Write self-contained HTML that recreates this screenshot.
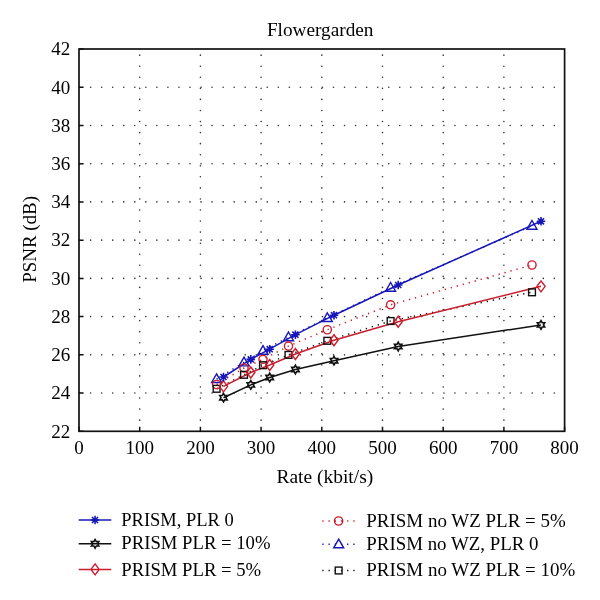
<!DOCTYPE html><html><head><meta charset="utf-8"><style>html,body{margin:0;padding:0;background:#fff}svg{display:block;will-change:transform}text{font-family:"Liberation Serif",serif;fill:#000}</style></head><body>
<svg width="600" height="600" viewBox="0 0 600 600">
<rect width="600" height="600" fill="#fff"/>
<g stroke="#333" stroke-width="1.6" stroke-linecap="round"><line x1="79.6" y1="393.07" x2="564.6" y2="393.07" stroke-dasharray="0 11.04"/><line x1="79.6" y1="354.84" x2="564.6" y2="354.84" stroke-dasharray="0 11.04"/><line x1="79.6" y1="316.61" x2="564.6" y2="316.61" stroke-dasharray="0 11.04"/><line x1="79.6" y1="278.38" x2="564.6" y2="278.38" stroke-dasharray="0 11.04"/><line x1="79.6" y1="240.15" x2="564.6" y2="240.15" stroke-dasharray="0 11.04"/><line x1="79.6" y1="201.92" x2="564.6" y2="201.92" stroke-dasharray="0 11.04"/><line x1="79.6" y1="163.69" x2="564.6" y2="163.69" stroke-dasharray="0 11.04"/><line x1="79.6" y1="125.46" x2="564.6" y2="125.46" stroke-dasharray="0 11.04"/><line x1="79.6" y1="87.23" x2="564.6" y2="87.23" stroke-dasharray="0 11.04"/><line x1="139.7" y1="431.2" x2="139.7" y2="49" stroke-dasharray="0 11.06"/><line x1="200.4" y1="431.2" x2="200.4" y2="49" stroke-dasharray="0 11.06"/><line x1="261.1" y1="431.2" x2="261.1" y2="49" stroke-dasharray="0 11.06"/><line x1="321.8" y1="431.2" x2="321.8" y2="49" stroke-dasharray="0 11.06"/><line x1="382.5" y1="431.2" x2="382.5" y2="49" stroke-dasharray="0 11.06"/><line x1="443.2" y1="431.2" x2="443.2" y2="49" stroke-dasharray="0 11.06"/><line x1="503.9" y1="431.2" x2="503.9" y2="49" stroke-dasharray="0 11.06"/></g>
<path d="M79 431.3h4.6M79 393.07h4.6M79 354.84h4.6M79 316.61h4.6M79 278.38h4.6M79 240.15h4.6M79 201.92h4.6M79 163.69h4.6M79 125.46h4.6M79 87.23h4.6M79 49h4.6M79 431.3v-4.6M139.7 431.3v-4.6M200.4 431.3v-4.6M261.1 431.3v-4.6M321.8 431.3v-4.6M382.5 431.3v-4.6M443.2 431.3v-4.6M503.9 431.3v-4.6M564.6 431.3v-4.6" stroke="#111" stroke-width="1.5" fill="none"/>
<rect x="79" y="49" width="485.6" height="382.3" stroke="#111" stroke-width="1.7" fill="none"/>
<polyline points="216.6,379 244,362.4 263,350.8 288.5,337.2 327.3,318 390.6,287.7 532,225.7" stroke="#1616b8" stroke-width="1.5" fill="none" stroke-dasharray="1.3 4.9"/>
<polyline points="216.6,384.5 244,368 263,359.3 288.5,346.1 327.3,329.75 390.6,304.8 532,265" stroke="#c81e2e" stroke-width="1.5" fill="none" stroke-dasharray="1.3 4.9"/>
<polyline points="216.6,388.8 244,374.8 263,365.2 288.5,354.9 327.3,340.8 390.6,321 532,292.3" stroke="#111" stroke-width="1.5" fill="none" stroke-dasharray="1.3 4.9"/>
<polyline points="223.5,397.7 250.8,384.9 269.7,377.5 295.4,369.5 334,360.7 398.2,346.5 541,324.9" stroke="#111" stroke-width="1.5" fill="none"/>
<polyline points="223.5,386.3 250.8,372.5 269.7,365 295.4,354 334,340.25 398.2,321.75 541,286.3" stroke="#c81e2e" stroke-width="1.5" fill="none"/>
<polyline points="223.5,377 250.8,359.4 269.7,349.2 295.4,334.7 334,315.2 398.2,285 541,221.3" stroke="#1616b8" stroke-width="1.5" fill="none"/>
<polygon points="216.6,373.8 221.6,382.5 211.6,382.5" stroke="#1616b8" stroke-width="1.4" fill="none"/>
<polygon points="244,357.2 249,365.9 239,365.9" stroke="#1616b8" stroke-width="1.4" fill="none"/>
<polygon points="263,345.6 268,354.3 258,354.3" stroke="#1616b8" stroke-width="1.4" fill="none"/>
<polygon points="288.5,332 293.5,340.7 283.5,340.7" stroke="#1616b8" stroke-width="1.4" fill="none"/>
<polygon points="327.3,312.8 332.3,321.5 322.3,321.5" stroke="#1616b8" stroke-width="1.4" fill="none"/>
<polygon points="390.6,282.5 395.6,291.2 385.6,291.2" stroke="#1616b8" stroke-width="1.4" fill="none"/>
<polygon points="532,220.5 537,229.2 527,229.2" stroke="#1616b8" stroke-width="1.4" fill="none"/>
<circle cx="216.6" cy="384.5" r="4.1" stroke="#c81e2e" stroke-width="1.4" fill="none"/>
<circle cx="244" cy="368" r="4.1" stroke="#c81e2e" stroke-width="1.4" fill="none"/>
<circle cx="263" cy="359.3" r="4.1" stroke="#c81e2e" stroke-width="1.4" fill="none"/>
<circle cx="288.5" cy="346.1" r="4.1" stroke="#c81e2e" stroke-width="1.4" fill="none"/>
<circle cx="327.3" cy="329.75" r="4.1" stroke="#c81e2e" stroke-width="1.4" fill="none"/>
<circle cx="390.6" cy="304.8" r="4.1" stroke="#c81e2e" stroke-width="1.4" fill="none"/>
<circle cx="532" cy="265" r="4.1" stroke="#c81e2e" stroke-width="1.4" fill="none"/>
<rect x="213.2" y="385.4" width="6.8" height="6.8" stroke="#111" stroke-width="1.4" fill="none"/>
<rect x="240.6" y="371.4" width="6.8" height="6.8" stroke="#111" stroke-width="1.4" fill="none"/>
<rect x="259.6" y="361.8" width="6.8" height="6.8" stroke="#111" stroke-width="1.4" fill="none"/>
<rect x="285.1" y="351.5" width="6.8" height="6.8" stroke="#111" stroke-width="1.4" fill="none"/>
<rect x="323.9" y="337.4" width="6.8" height="6.8" stroke="#111" stroke-width="1.4" fill="none"/>
<rect x="387.2" y="317.6" width="6.8" height="6.8" stroke="#111" stroke-width="1.4" fill="none"/>
<rect x="528.6" y="288.9" width="6.8" height="6.8" stroke="#111" stroke-width="1.4" fill="none"/>
<polygon points="223.5,393.4 222.26,395.55 219.78,395.55 221.02,397.7 219.78,399.85 222.26,399.85 223.5,402 224.74,399.85 227.22,399.85 225.98,397.7 227.22,395.55 224.74,395.55" stroke="#111" stroke-width="1.6" fill="none"/>
<polygon points="250.8,380.6 249.56,382.75 247.08,382.75 248.32,384.9 247.08,387.05 249.56,387.05 250.8,389.2 252.04,387.05 254.52,387.05 253.28,384.9 254.52,382.75 252.04,382.75" stroke="#111" stroke-width="1.6" fill="none"/>
<polygon points="269.7,373.2 268.46,375.35 265.98,375.35 267.22,377.5 265.98,379.65 268.46,379.65 269.7,381.8 270.94,379.65 273.42,379.65 272.18,377.5 273.42,375.35 270.94,375.35" stroke="#111" stroke-width="1.6" fill="none"/>
<polygon points="295.4,365.2 294.16,367.35 291.68,367.35 292.92,369.5 291.68,371.65 294.16,371.65 295.4,373.8 296.64,371.65 299.12,371.65 297.88,369.5 299.12,367.35 296.64,367.35" stroke="#111" stroke-width="1.6" fill="none"/>
<polygon points="334,356.4 332.76,358.55 330.28,358.55 331.52,360.7 330.28,362.85 332.76,362.85 334,365 335.24,362.85 337.72,362.85 336.48,360.7 337.72,358.55 335.24,358.55" stroke="#111" stroke-width="1.6" fill="none"/>
<polygon points="398.2,342.2 396.96,344.35 394.48,344.35 395.72,346.5 394.48,348.65 396.96,348.65 398.2,350.8 399.44,348.65 401.92,348.65 400.68,346.5 401.92,344.35 399.44,344.35" stroke="#111" stroke-width="1.6" fill="none"/>
<polygon points="541,320.6 539.76,322.75 537.28,322.75 538.52,324.9 537.28,327.05 539.76,327.05 541,329.2 542.24,327.05 544.72,327.05 543.48,324.9 544.72,322.75 542.24,322.75" stroke="#111" stroke-width="1.6" fill="none"/>
<polygon points="223.5,380.8 227.6,386.3 223.5,391.8 219.4,386.3" stroke="#c81e2e" stroke-width="1.4" fill="none"/>
<polygon points="250.8,367 254.9,372.5 250.8,378 246.7,372.5" stroke="#c81e2e" stroke-width="1.4" fill="none"/>
<polygon points="269.7,359.5 273.8,365 269.7,370.5 265.6,365" stroke="#c81e2e" stroke-width="1.4" fill="none"/>
<polygon points="295.4,348.5 299.5,354 295.4,359.5 291.3,354" stroke="#c81e2e" stroke-width="1.4" fill="none"/>
<polygon points="334,334.75 338.1,340.25 334,345.75 329.9,340.25" stroke="#c81e2e" stroke-width="1.4" fill="none"/>
<polygon points="398.2,316.25 402.3,321.75 398.2,327.25 394.1,321.75" stroke="#c81e2e" stroke-width="1.4" fill="none"/>
<polygon points="541,280.8 545.1,286.3 541,291.8 536.9,286.3" stroke="#c81e2e" stroke-width="1.4" fill="none"/>
<path d="M223.5 372.7V381.3M219.2 377H227.8M220.46 373.96L226.54 380.04M220.46 380.04L226.54 373.96" stroke="#1616b8" stroke-width="1.6" fill="none"/>
<path d="M250.8 355.1V363.7M246.5 359.4H255.1M247.76 356.36L253.84 362.44M247.76 362.44L253.84 356.36" stroke="#1616b8" stroke-width="1.6" fill="none"/>
<path d="M269.7 344.9V353.5M265.4 349.2H274M266.66 346.16L272.74 352.24M266.66 352.24L272.74 346.16" stroke="#1616b8" stroke-width="1.6" fill="none"/>
<path d="M295.4 330.4V339M291.1 334.7H299.7M292.36 331.66L298.44 337.74M292.36 337.74L298.44 331.66" stroke="#1616b8" stroke-width="1.6" fill="none"/>
<path d="M334 310.9V319.5M329.7 315.2H338.3M330.96 312.16L337.04 318.24M330.96 318.24L337.04 312.16" stroke="#1616b8" stroke-width="1.6" fill="none"/>
<path d="M398.2 280.7V289.3M393.9 285H402.5M395.16 281.96L401.24 288.04M395.16 288.04L401.24 281.96" stroke="#1616b8" stroke-width="1.6" fill="none"/>
<path d="M541 217V225.6M536.7 221.3H545.3M537.96 218.26L544.04 224.34M537.96 224.34L544.04 218.26" stroke="#1616b8" stroke-width="1.6" fill="none"/>
<text x="266.9" y="35.7" font-size="19" textLength="106.6" lengthAdjust="spacingAndGlyphs">Flowergarden</text>
<text x="70.3" y="437.6" font-size="19" text-anchor="end">22</text>
<text x="70.3" y="399.37" font-size="19" text-anchor="end">24</text>
<text x="70.3" y="361.14" font-size="19" text-anchor="end">26</text>
<text x="70.3" y="322.91" font-size="19" text-anchor="end">28</text>
<text x="70.3" y="284.68" font-size="19" text-anchor="end">30</text>
<text x="70.3" y="246.45" font-size="19" text-anchor="end">32</text>
<text x="70.3" y="208.22" font-size="19" text-anchor="end">34</text>
<text x="70.3" y="169.99" font-size="19" text-anchor="end">36</text>
<text x="70.3" y="131.76" font-size="19" text-anchor="end">38</text>
<text x="70.3" y="93.53" font-size="19" text-anchor="end">40</text>
<text x="70.3" y="55.3" font-size="19" text-anchor="end">42</text>
<text x="79" y="453.5" font-size="19" text-anchor="middle">0</text>
<text x="139.7" y="453.5" font-size="19" text-anchor="middle">100</text>
<text x="200.4" y="453.5" font-size="19" text-anchor="middle">200</text>
<text x="261.1" y="453.5" font-size="19" text-anchor="middle">300</text>
<text x="321.8" y="453.5" font-size="19" text-anchor="middle">400</text>
<text x="382.5" y="453.5" font-size="19" text-anchor="middle">500</text>
<text x="443.2" y="453.5" font-size="19" text-anchor="middle">600</text>
<text x="503.9" y="453.5" font-size="19" text-anchor="middle">700</text>
<text x="564.6" y="453.5" font-size="19" text-anchor="middle">800</text>
<text x="0" y="0" font-size="19" transform="translate(35.9 282.8) rotate(-90)" textLength="86.8" lengthAdjust="spacingAndGlyphs">PSNR (dB)</text>
<text x="276.4" y="483" font-size="19" textLength="96.8" lengthAdjust="spacingAndGlyphs">Rate (kbit/s)</text>
<line x1="78.7" y1="520.0" x2="111.3" y2="520.0" stroke="#1616b8" stroke-width="1.5"/>
<path d="M95 515.7V524.3M90.7 520H99.3M91.96 516.96L98.04 523.04M91.96 523.04L98.04 516.96" stroke="#1616b8" stroke-width="1.6" fill="none"/>
<text x="121.3" y="525.7" font-size="19" textLength="112.5" lengthAdjust="spacingAndGlyphs">PRISM, PLR 0</text>
<line x1="78.7" y1="543.8" x2="111.3" y2="543.8" stroke="#111" stroke-width="1.5"/>
<polygon points="95.1,539.5 93.86,541.65 91.38,541.65 92.62,543.8 91.38,545.95 93.86,545.95 95.1,548.1 96.34,545.95 98.82,545.95 97.58,543.8 98.82,541.65 96.34,541.65" stroke="#111" stroke-width="1.6" fill="none"/>
<text x="121.3" y="549" font-size="19" textLength="149.2" lengthAdjust="spacingAndGlyphs">PRISM PLR = 10%</text>
<line x1="78.7" y1="569.4" x2="111.3" y2="569.4" stroke="#c81e2e" stroke-width="1.5"/>
<polygon points="95.1,563.9 99.2,569.4 95.1,574.9 91,569.4" stroke="#c81e2e" stroke-width="1.4" fill="none"/>
<text x="121.3" y="576.3" font-size="19" textLength="139.9" lengthAdjust="spacingAndGlyphs">PRISM PLR = 5%</text>
<line x1="322.3" y1="521.0" x2="355.5" y2="521.0" stroke="#c81e2e" stroke-width="1.5" stroke-dasharray="1.3 4.9"/>
<circle cx="338.6" cy="521" r="4.1" stroke="#c81e2e" stroke-width="1.4" fill="none"/>
<text x="366.3" y="526.7" font-size="19" textLength="199.5" lengthAdjust="spacingAndGlyphs">PRISM no WZ PLR = 5%</text>
<line x1="322.3" y1="544.3" x2="355.5" y2="544.3" stroke="#1616b8" stroke-width="1.5" stroke-dasharray="1.3 4.9"/>
<polygon points="338.7,539.1 343.7,547.8 333.7,547.8" stroke="#1616b8" stroke-width="1.4" fill="none"/>
<text x="366.3" y="550.3" font-size="19" textLength="172.2" lengthAdjust="spacingAndGlyphs">PRISM no WZ, PLR 0</text>
<line x1="322.3" y1="570.5" x2="355.5" y2="570.5" stroke="#111" stroke-width="1.5" stroke-dasharray="1.3 4.9"/>
<rect x="335.25" y="567.1" width="6.8" height="6.8" stroke="#111" stroke-width="1.4" fill="none"/>
<text x="366.3" y="575.7" font-size="19" textLength="208.9" lengthAdjust="spacingAndGlyphs">PRISM no WZ PLR = 10%</text>
</svg></body></html>
